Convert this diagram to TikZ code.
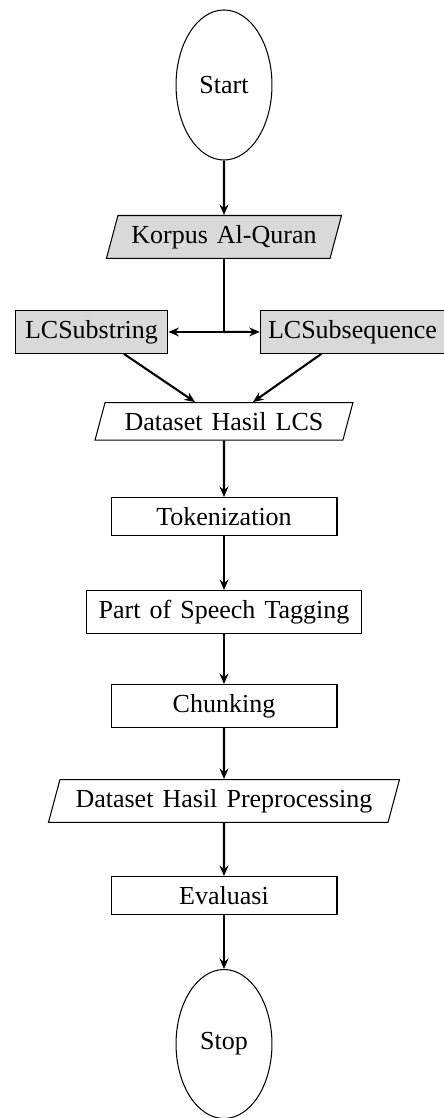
\documentclass[tikz,border=0pt]{standalone}
\usepackage{fontspec}
\setmainfont{Liberation Serif}[WordSpace=1.4]
\usetikzlibrary{shapes.geometric,arrows.meta,calc}
\begin{document}
\begin{tikzpicture}[x=0.3846pt,y=-0.3846pt,
  flow/.style={-{Stealth[length=4pt,width=3.4pt,inset=1.3pt]},line width=0.8pt},
  terminal/.style={draw,ellipse,line width=0.4pt,minimum width=36.9pt,minimum height=57.7pt,inner sep=0pt},
  process/.style={draw,rectangle,line width=0.4pt,inner xsep=3pt,inner ysep=3.7pt,anchor=north},
  io/.style={draw,trapezium,trapezium left angle=75,trapezium right angle=105,
    trapezium stretches body,line width=0.4pt,inner xsep=4pt,inner ysep=3.7pt,anchor=north},
  shaded/.style={fill=black!15}]
\useasboundingbox (0,0) rectangle (444,1118);

% terminals
\node[terminal] (start) at (224,85) {Start};
\node[terminal,minimum height=57.3pt] (stop) at (224,1044) {Stop};

% input data and the two LCS variants
\node[io,shaded,minimum width=90.4pt] (korpus) at (224,215) {Korpus Al-Quran};
\node[process,shaded,minimum width=58.8pt] (sub) at (91.5,310) {LCSubstring};
\node[process,shaded,minimum width=69.6pt] (seq) at (352.5,310) {LCSubsequence};

% preprocessing pipeline
\node[io,minimum width=99.2pt] (lcs) at (224,402) {Dataset Hasil LCS};
\node[process,minimum width=86.9pt] (tok) at (224,497) {Tokenization};
\node[process,minimum width=105.4pt] (pos) at (224,590) {Part of Speech Tagging};
\node[process,minimum width=86.9pt] (chunk) at (224,684) {Chunking};
\node[io,minimum width=135pt] (prep) at (224,779) {Dataset Hasil Preprocessing};
\node[process,minimum width=86.9pt] (eval) at (224,876) {Evaluasi};

% connectors
\coordinate (split) at (korpus.south |- sub.east);
\coordinate (lcsL) at ($(lcs.north)+(-29,0)$);
\coordinate (lcsR) at ($(lcs.north)+(29,0)$);

\draw[flow] (start) -- (korpus);
\draw[line width=0.8pt] (korpus.south) -- (split);
\draw[flow] (split) -- (sub.east);
\draw[flow] (split) -- (seq.west);
\draw[flow] (sub) -- (lcsL);
\draw[flow] (seq) -- (lcsR);
\draw[flow] (lcs) -- (tok);
\draw[flow] (tok) -- (pos);
\draw[flow] (pos) -- (chunk);
\draw[flow] (chunk) -- (prep);
\draw[flow] (prep) -- (eval);
\draw[flow] (eval) -- (stop);
\end{tikzpicture}
\end{document}
